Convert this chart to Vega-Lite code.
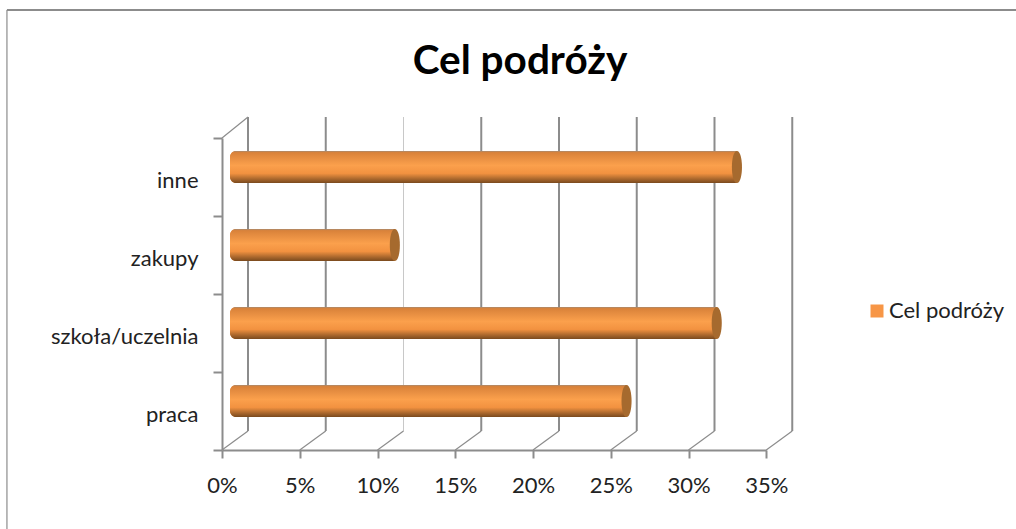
{"$schema":"https://vega.github.io/schema/vega-lite/v6.json","width":570,"height":333,"autosize":"none","padding":{"left":222,"top":117,"right":224,"bottom":79},"background":"white","title":{"text":"Cel podróży","font":"Lato","fontWeight":"bold","fontSize":40.5,"color":"#000000","anchor":"middle","frame":"group","dx":13,"offset":-73},"datasets":{"grid":[{"v":0},{"v":0.05},{"v":0.1},{"v":0.15},{"v":0.2},{"v":0.25},{"v":0.3},{"v":0.35}],"bars":[{"cel":"praca","value":0.255,"seria":"Cel podróży"},{"cel":"szkoła/uczelnia","value":0.313,"seria":"Cel podróży"},{"cel":"zakupy","value":0.106,"seria":"Cel podróży"},{"cel":"inne","value":0.326,"seria":"Cel podróży"}]},"config":{"view":{"stroke":null}},"encoding":{"y":{"field":"cel","type":"nominal","sort":["inne","zakupy","szkoła/uczelnia","praca"],"scale":{"domain":["inne","zakupy","szkoła/uczelnia","praca"],"range":[21,333],"paddingInner":0,"paddingOuter":0},"axis":{"title":null,"orient":"left","tickBand":"extent","grid":false,"domainColor":"#8c8c8c","domainWidth":2,"tickColor":"#8c8c8c","tickWidth":2,"tickSize":9,"labelFont":"Lato","labelFontSize":22,"labelColor":"#222222","labelPadding":15,"labelOffset":3}},"x":{"field":"value","type":"quantitative","stack":null,"scale":{"domain":[0,0.35],"range":[0,544.25]},"axis":{"title":null,"values":[0,0.05,0.1,0.15,0.2,0.25,0.3,0.35],"format":".0%","grid":false,"domainColor":"#8c8c8c","domainWidth":2,"tickColor":"#8c8c8c","tickWidth":2,"tickSize":8,"labelFont":"Lato","labelFontSize":22,"labelColor":"#222222","labelPadding":17,"labelAngle":0,"labelOverlap":false,"labelFlush":false}}},"layer":[{"data":{"values":[{"v":-0.1383}]},"mark":{"type":"rule","stroke":"#8c8c8c","strokeWidth":2,"yOffset":-167,"y2Offset":-167,"clip":false},"encoding":{"x":{"field":"v"},"x2":{"datum":0.52},"y":{"datum":"inne"},"y2":{"datum":"inne"}}},{"data":{"values":[{"v":-0.1383}]},"mark":{"type":"rule","stroke":"#8c8c8c","strokeWidth":1.2,"yOffset":-167,"y2Offset":118,"clip":false},"encoding":{"x":{"field":"v"},"y":{"datum":"inne"},"y2":{"datum":"praca"}}},{"data":{"name":"grid"},"mark":{"type":"rule","xOffset":26,"yOffset":-60,"y2Offset":20},"encoding":{"x":{"field":"v"},"y":{"datum":"inne"},"y2":{"datum":"praca"},"stroke":{"condition":{"test":"datum.v==0.1","value":"#c8c8c8"},"value":"#8c8c8c"},"strokeWidth":{"condition":{"test":"datum.v==0.1","value":1},"value":2}}},{"data":{"name":"grid"},"mark":{"type":"rule","stroke":"#8c8c8c","strokeWidth":1.2,"x2Offset":26,"yOffset":39,"y2Offset":20},"encoding":{"x":{"field":"v"},"x2":{"field":"v"},"y":{"datum":"praca"},"y2":{"datum":"praca"}}},{"data":{"values":[{"v":0}]},"mark":{"type":"rule","stroke":"#8c8c8c","strokeWidth":1.2,"x2Offset":26,"yOffset":-39,"y2Offset":-60},"encoding":{"x":{"field":"v"},"x2":{"field":"v"},"y":{"datum":"inne"},"y2":{"datum":"inne"}}},{"data":{"name":"bars"},"mark":{"type":"bar","size":32,"orient":"horizontal","xOffset":8,"x2Offset":8,"yOffset":-10,"cornerRadiusTopLeft":6,"cornerRadiusBottomLeft":6},"encoding":{"x2":{"datum":0},"color":{"field":"seria","type":"nominal","scale":{"range":["#F79646"]},"legend":{"title":null,"orient":"none","legendX":644,"legendY":183,"symbolType":"square","symbolSize":169,"symbolStrokeWidth":0,"labelFont":"Lato","labelFontSize":22,"labelColor":"#222222","labelOffset":1}}}},{"data":{"name":"bars"},"mark":{"type":"bar","size":32,"orient":"horizontal","xOffset":8,"x2Offset":8,"yOffset":-10,"cornerRadiusTopLeft":6,"cornerRadiusBottomLeft":6,"fill":{"gradient":"linear","x1":0,"y1":0,"x2":0,"y2":1,"stops":[{"offset":0,"color":"#a88a70"},{"offset":0.05,"color":"#D9823A"},{"offset":0.45,"color":"#FBA04C"},{"offset":0.7,"color":"#F29240"},{"offset":0.88,"color":"#A8662C"},{"offset":1,"color":"#7A4A1E"}]}},"encoding":{"x2":{"datum":0}}},{"data":{"name":"bars"},"mark":{"type":"point","shape":"M0,-1 C0.42,-1 0.42,1 0,1 C-0.42,1 -0.42,-1 0,-1 Z","size":1024,"filled":true,"fill":"#A66A2E","opacity":1,"xOffset":8,"yOffset":-10}}]}
